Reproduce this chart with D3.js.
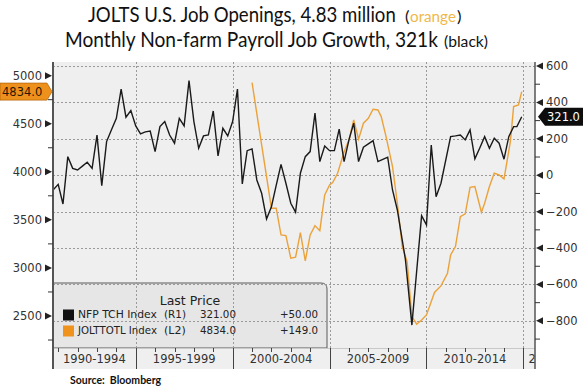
<!DOCTYPE html>
<html>
<head>
<meta charset="utf-8">
<script src="https://cdn.jsdelivr.net/npm/d3@7"></script>
<style>
  body { margin: 0; background: #fff; }
  svg { display: block; }
</style>
</head>
<body>
<div id="chart"></div>
<script>
// NFP TCH Index (monthly payroll change, thousands) - right axis
var nfpDates = ["1990-10","1991-01","1991-04","1991-07","1991-10","1992-01","1992-04","1992-07","1992-10",
  "1993-01","1993-04","1993-07","1993-10","1994-01","1994-04","1994-07","1994-10","1995-01","1995-04",
  "1995-07","1995-10","1996-01","1996-04","1996-07","1996-10","1997-01","1997-04","1997-07","1997-10",
  "1998-01","1998-04","1998-07","1998-10","1999-01","1999-04","1999-07","1999-10","2000-01","2000-04",
  "2000-07","2000-10","2001-01","2001-04","2001-07","2001-10","2002-01","2002-04","2002-07","2002-10",
  "2003-01","2003-04","2003-07","2003-10","2004-01","2004-04","2004-07","2004-10","2005-01","2005-04",
  "2005-07","2005-10","2006-01","2006-04","2006-07","2006-10","2007-01","2007-04","2007-07","2007-10",
  "2008-01","2008-04","2008-07","2008-12","2009-04","2009-10","2010-01","2010-04","2010-07","2010-10",
  "2011-04","2011-07","2011-10","2012-01","2012-04","2012-07","2012-10","2013-01","2013-04","2013-07",
  "2013-10","2014-01","2014-04","2014-07","2014-09","2014-12"]
var nfpValues = [-80,-50,-158,102,38,29,50,71,38,
  220,-57,185,250,313,473,319,355,271,227,
  238,243,130,267,295,221,176,313,271,520,
  295,148,216,221,353,106,258,216,295,473,
  -48,135,145,-26,-99,-240,-173,-56,60,-44,
  -154,-203,11,102,130,341,75,161,135,135,
  253,75,194,286,75,154,172,190,75,87,
  99,-81,-191,-465,-823,-222,-273,166,-118,-44,
  212,216,221,194,249,90,150,212,148,203,
  176,88,212,267,267,321]

// JOLTTOTL Index (job openings, thousands) - left axis
var joltsDates = ["2001-01","2002-01","2002-04","2002-07","2002-10","2003-01","2003-04","2003-07","2003-10",
  "2004-01","2004-04","2004-07","2004-10","2005-01","2005-03","2005-06","2005-10","2006-01","2006-04",
  "2006-07","2006-10","2007-01","2007-04","2007-07","2007-09","2007-12","2008-04","2008-07","2008-10",
  "2009-01","2009-04","2009-07","2009-10","2010-01","2010-06","2010-10","2011-02","2011-04","2011-07",
  "2011-10","2012-01","2012-04","2012-07","2012-11","2013-01","2013-04","2013-07","2013-10","2014-01",
  "2014-05","2014-07","2014-10","2014-12"]
var joltsValues = [4927,3621,3621,3343,3336,3101,3111,3367,3073,
  3343,3440,3388,3759,3863,3887,3985,4206,4331,4539,
  4339,4505,4557,4651,4643,4574,4366,4054,3673,3222,
  3066,2494,2415,2459,2511,2745,2813,2945,3135,3222,
  3534,3562,3839,3846,3579,3673,3846,3985,3967,3926,
  4314,4678,4695,4834]

var leftTicks = [2500, 3000, 3500, 4000, 4500, 5000]
var leftMinor = [2250, 2750, 3250, 3750, 4250, 4750]
var rightTicks = [-800, -600, -400, -200, 0, 200, 400, 600]
var rightMinor = [-900, -700, -500, -300, -100, 100, 300, 500]
var periodStarts = ["1990", "1995", "2000", "2005", "2010", "2015"]
var periodLabels = ["1990-1994", "1995-1999", "2000-2004", "2005-2009", "2010-2014", "2"]

var legendNames = ["NFP TCH Index", "JOLTTOTL Index"]
var legendAxis = ["(R1)", "(L2)"]
var legendLast = ["321.00", "4834.0"]
var legendChange = ["+50.00", "+149.0"]
var legendColors = ["#111111", "#f0931c"]

var width = 583, height = 389
var margin = {top: 62, right: 48, bottom: 41, left: 53}
var plotBottom = height - margin.bottom
var bandBottom = plotBottom + 21

var parse = d3.timeParse("%Y-%m")
var parseYear = d3.timeParse("%Y")
var font = "DejaVu Sans, sans-serif"

var svg = d3.select("#chart")
  .append("svg")
    .attr("width", width)
    .attr("height", height)

// scales
var x = d3.scaleTime()
  .domain([new Date(1990, 8, 25), new Date(2015, 7, 8)])
  .range([margin.left, width - margin.right])

var yLeft = d3.scaleLinear()
  .domain([2167, 5142])
  .range([plotBottom, margin.top])

var yRight = d3.scaleLinear()
  .domain([-949, 622])
  .range([plotBottom, margin.top])

// plot background
svg.append("rect")
  .attr("x", margin.left)
  .attr("y", margin.top)
  .attr("width", width - margin.right - margin.left)
  .attr("height", bandBottom - margin.top)
  .attr("fill", "#efefef")

// legend box (behind gridlines)
var lx0 = margin.left, lx1 = 327, ly0 = 283, r = 6
svg.append("path")
  .attr("d", "M" + lx0 + "," + ly0 + "H" + (lx1 - r) + "Q" + lx1 + "," + ly0 + " " + lx1 + "," + (ly0 + r) +
    "V" + plotBottom + "H" + lx0 + "Z")
  .attr("fill", "#e6e6e6")
  .attr("stroke", "#5a5a5a")
  .attr("stroke-width", 1)

// gridlines
svg.append("g")
  .selectAll("line")
  .data(rightTicks)
  .enter()
  .append("line")
    .attr("x1", margin.left)
    .attr("x2", width - margin.right)
    .attr("y1", d => Math.round(yRight(d)) + 0.5)
    .attr("y2", d => Math.round(yRight(d)) + 0.5)
    .attr("stroke", "#9a9a9a")
    .attr("stroke-dasharray", "2,2")

svg.append("g")
  .selectAll("line")
  .data(periodStarts.slice(1))
  .enter()
  .append("line")
    .attr("x1", d => Math.round(x(parseYear(d))) + 0.5)
    .attr("x2", d => Math.round(x(parseYear(d))) + 0.5)
    .attr("y1", margin.top)
    .attr("y2", plotBottom)
    .attr("stroke", "#9a9a9a")
    .attr("stroke-dasharray", "2,2")

// series
var nfpLine = d3.line()
  .x((d, i) => x(parse(nfpDates[i])))
  .y(d => yRight(d))

var joltsLine = d3.line()
  .x((d, i) => x(parse(joltsDates[i])))
  .y(d => yLeft(d))

svg.append("path")
  .datum(joltsValues)
  .attr("d", joltsLine)
  .attr("fill", "none")
  .attr("stroke", "#eba23a")
  .attr("stroke-width", 1.4)

svg.append("path")
  .datum(nfpValues)
  .attr("d", nfpLine)
  .attr("fill", "none")
  .attr("stroke", "#1a1a1a")
  .attr("stroke-width", 1.4)

// x band with period separators and yearly ticks
svg.append("line")
  .attr("x1", margin.left).attr("x2", width - margin.right)
  .attr("y1", plotBottom + 0.5).attr("y2", plotBottom + 0.5)
  .attr("stroke", "#c8c8c8")

svg.append("g")
  .selectAll("line")
  .data(periodStarts.slice(1))
  .enter()
  .append("line")
    .attr("x1", d => Math.round(x(parseYear(d))) + 0.5)
    .attr("x2", d => Math.round(x(parseYear(d))) + 0.5)
    .attr("y1", plotBottom)
    .attr("y2", bandBottom)
    .attr("stroke", "#444")

svg.append("g")
  .selectAll("line")
  .data(x.ticks(d3.timeYear.every(1)))
  .enter()
  .append("line")
    .attr("x1", d => Math.round(x(d)) + 0.5)
    .attr("x2", d => Math.round(x(d)) + 0.5)
    .attr("y1", plotBottom)
    .attr("y2", plotBottom + 4)
    .attr("stroke", "#444")

svg.append("g")
  .selectAll("text")
  .data(periodLabels)
  .enter()
  .append("text")
    .attr("x", function(d, i) {
      if (i == periodLabels.length - 1) return x(parseYear(periodStarts[i])) + 5
      var a = Math.max(x(parseYear(periodStarts[i])), margin.left)
      var b = x(parseYear(periodStarts[i + 1]))
      return (a + b) / 2
    })
    .attr("y", plotBottom + 15)
    .attr("text-anchor", (d, i) => i == periodLabels.length - 1 ? "start" : "middle")
    .attr("font-family", font)
    .attr("font-size", "11.5px")
    .attr("fill", "#333")
    .text(d => d)

// axis lines
svg.append("line")
  .attr("x1", margin.left).attr("x2", margin.left)
  .attr("y1", margin.top).attr("y2", bandBottom)
  .attr("stroke", "#555").attr("stroke-width", 2)

svg.append("line")
  .attr("x1", width - margin.right).attr("x2", width - margin.right)
  .attr("y1", margin.top).attr("y2", bandBottom)
  .attr("stroke", "#555").attr("stroke-width", 1.5)

// left axis ticks
var gL = svg.append("g")
gL.selectAll("path")
  .data(leftTicks)
  .enter()
  .append("path")
    .attr("d", d => "M" + (margin.left - 1) + "," + yLeft(d) + "l-7,-3.5v7z")
    .attr("fill", "#222")
gL.selectAll("line")
  .data(leftMinor)
  .enter()
  .append("line")
    .attr("x1", margin.left - 5).attr("x2", margin.left)
    .attr("y1", d => yLeft(d)).attr("y2", d => yLeft(d))
    .attr("stroke", "#333")
gL.selectAll("text")
  .data(leftTicks)
  .enter()
  .append("text")
    .attr("x", margin.left - 11)
    .attr("y", d => yLeft(d) + 4)
    .attr("text-anchor", "end")
    .attr("font-family", font)
    .attr("font-size", "11.5px")
    .attr("fill", "#333")
    .text(d => d)

// right axis ticks
var xr = width - margin.right
var gR = svg.append("g")
gR.selectAll("path")
  .data(rightTicks)
  .enter()
  .append("path")
    .attr("d", d => "M" + (xr + 1) + "," + yRight(d) + "l7,-3.5v7z")
    .attr("fill", "#222")
gR.selectAll("line")
  .data(rightMinor)
  .enter()
  .append("line")
    .attr("x1", xr).attr("x2", xr + 5)
    .attr("y1", d => yRight(d)).attr("y2", d => yRight(d))
    .attr("stroke", "#333")
gR.selectAll("text")
  .data(rightTicks)
  .enter()
  .append("text")
    .attr("x", xr + 11)
    .attr("y", d => yRight(d) + 4)
    .attr("font-family", font)
    .attr("font-size", "11.5px")
    .attr("fill", "#333")
    .text(d => d < 0 ? "\u2212" + Math.abs(d) : d)

// last value tags
var yo = yLeft(joltsValues[joltsValues.length - 1])
svg.append("path")
  .attr("d", "M0," + (yo - 8.5) + "H47L" + (margin.left - 1) + "," + yo + "L47," + (yo + 8.5) + "H0Z")
  .attr("fill", "#ee901c")
  .attr("stroke", "#b86a0c")
  .attr("stroke-width", 0.8)
svg.append("text")
  .attr("x", 2).attr("y", yo + 4)
  .attr("font-family", font).attr("font-size", "11.5px")
  .attr("fill", "#2a1800")
  .text(joltsValues[joltsValues.length - 1].toFixed(1))

var yb = yRight(nfpValues[nfpValues.length - 1])
svg.append("path")
  .attr("d", "M" + (xr + 3) + "," + yb + "L" + (xr + 10) + "," + (yb - 9) + "H" + width + "V" + (yb + 9) + "H" + (xr + 10) + "Z")
  .attr("fill", "#0d0d0d")
svg.append("text")
  .attr("x", xr + 12).attr("y", yb + 4)
  .attr("font-family", font).attr("font-size", "11.5px")
  .attr("fill", "#fff")
  .text(nfpValues[nfpValues.length - 1].toFixed(1))

// legend contents
svg.append("text")
  .attr("x", 190).attr("y", 305)
  .attr("text-anchor", "middle")
  .attr("font-family", font).attr("font-size", "12.5px")
  .attr("fill", "#222")
  .text("Last Price")

var rows = svg.append("g")
  .selectAll("g")
  .data(legendNames)
  .enter()
  .append("g")
    .attr("transform", (d, i) => "translate(0," + (318 + i * 16) + ")")

rows.append("rect")
  .attr("x", 63).attr("y", -8.5)
  .attr("width", 11).attr("height", 11)
  .attr("fill", (d, i) => legendColors[i])

var cols = [
  {x: 78, w: 79, vals: legendNames},
  {x: 164, w: 22, vals: legendAxis},
  {x: 200, w: 36, vals: legendLast},
  {x: 280, w: 38, vals: legendChange}
]
cols.forEach(function(c) {
  rows.append("text")
    .attr("transform", "translate(" + c.x + ",0)")
    .attr("font-family", font).attr("font-size", "11px")
    .attr("fill", "#222")
    .text((d, i) => c.vals[i])
    .each(function() {
      // squeeze to the reference's narrower font
      var n = this.getComputedTextLength()
      if (n > c.w) d3.select(this).attr("transform", "translate(" + c.x + ",0) scale(" + (c.w / n) + ",1)")
    })
})

// title: main text plus smaller colour note, each fitted to its width
var titleParts = [
  {t: "JOLTS U.S. Job Openings, 4.83 million", x: 88, y: 22, size: 21, w: 308, c: "#111"},
  {t: "(", x: 405, y: 22, size: 15, w: 4.5, c: "#111"},
  {t: "orange", x: 410, y: 22, size: 15, w: 46, c: "#f0b84a"},
  {t: ")", x: 457, y: 22, size: 15, w: 4.5, c: "#111"},
  {t: "Monthly Non-farm Payroll Job Growth, 321k", x: 65, y: 47, size: 21, w: 373, c: "#111"},
  {t: "(black)", x: 444, y: 47, size: 15, w: 44, c: "#111"}
]
svg.append("g")
  .selectAll("text")
  .data(titleParts)
  .enter()
  .append("text")
    .attr("font-family", "Lato, sans-serif")
    .attr("font-size", d => d.size + "px")
    .attr("fill", d => d.c)
    .text(d => d.t)
    .each(function(d) {
      var n = this.getComputedTextLength()
      d3.select(this).attr("transform", "translate(" + d.x + "," + d.y + ") scale(" + (d.w / n) + ",1)")
    })

// source
svg.append("text")
  .attr("x", 70).attr("y", 384)
  .attr("font-family", "Lato, sans-serif")
  .attr("font-weight", "bold")
  .attr("font-size", "10.5px")
  .attr("fill", "#111")
  .attr("xml:space", "preserve")
  .text("Source:  Bloomberg")
</script>
</body>
</html>
